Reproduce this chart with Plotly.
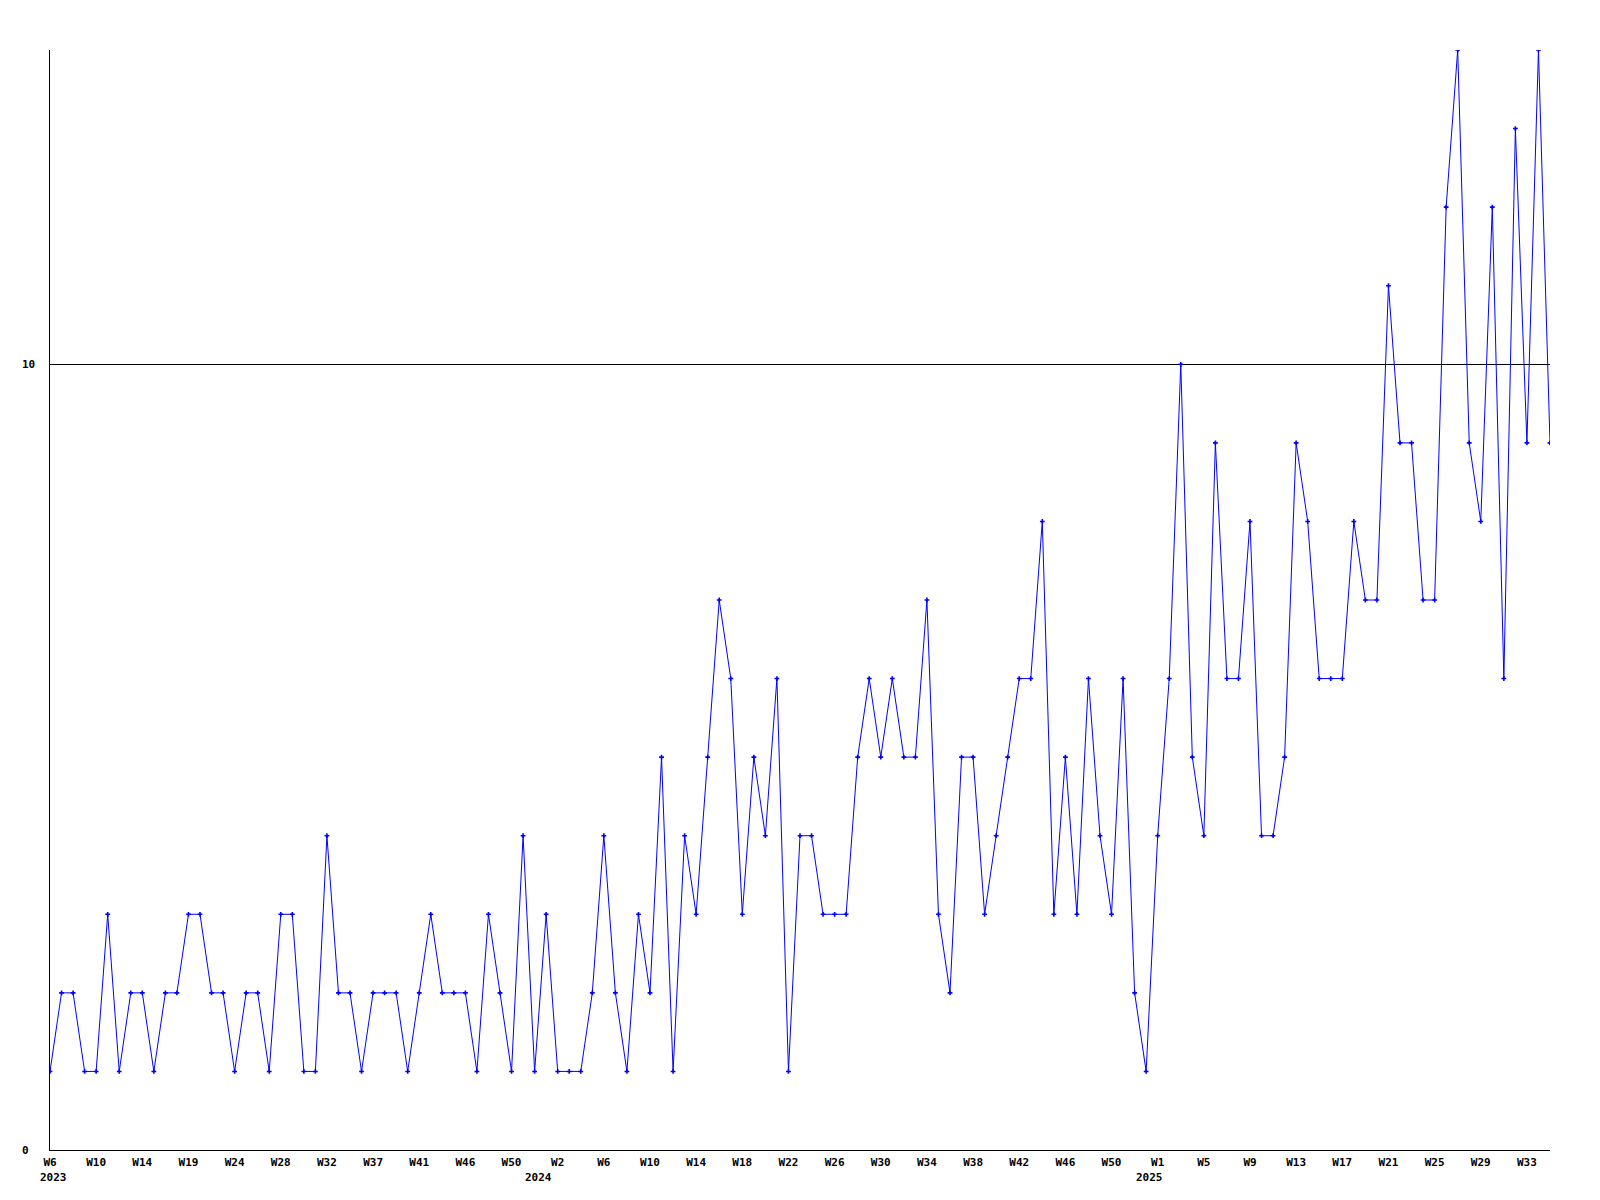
import plotly.graph_objects as go

# Weekly counts (one point per week bucket)
counts = [
    1, 2, 2, 1, 1, 3, 1, 2, 2, 1, 2, 2, 3, 3, 2, 2, 1, 2, 2, 1, 3, 3, 1, 1,
    4, 2, 2, 1, 2, 2, 2, 1, 2, 3, 2, 2, 2, 1, 3, 2, 1, 4, 1, 3, 1, 1, 1, 2,
    4, 2, 1, 3, 2, 5, 1, 4, 3, 5, 7, 6, 3, 5, 4, 6, 1, 4, 4, 3, 3, 3, 5, 6,
    5, 6, 5, 5, 7, 3, 2, 5, 5, 3, 4, 5, 6, 6, 8, 3, 5, 3, 6,
    4, 3, 6, 2, 1, 4, 6, 10, 5, 4, 9, 6, 6, 8, 4, 4, 5, 9, 8, 6, 6, 6, 8, 7,
    7, 11, 9, 9, 7, 7, 12, 14, 9, 8, 12, 6, 13, 9, 14, 9,
]

week_labels = [
    "W6", "W10", "W14", "W19", "W24", "W28", "W32", "W37", "W41", "W46", "W50",
    "W2", "W6", "W10", "W14", "W18", "W22", "W26", "W30", "W34", "W38", "W42", "W46", "W50",
    "W1", "W5", "W9", "W13", "W17", "W21", "W25", "W29", "W33",
]
year_labels = ["2023", "2024", "2025"]
year_label_ticks = [0, 11, 24]  # index into week_labels of first label of each year

y_labels = [0, 10]

x = list(range(len(counts)))
tick_step = 4
tickvals = [i * tick_step for i in range(len(week_labels))]

FONT = "DejaVu Sans Mono"
lab_font = dict(family=FONT, size=11, color="black", weight="bold")

fig = go.Figure()
fig.add_trace(go.Scatter(
    x=x, y=counts, mode="lines+markers",
    line=dict(color="#0000ff", width=1),
    marker=dict(symbol="cross", size=4, color="#0000ff"),
    showlegend=False, hoverinfo="x+y",
))

year_offsets = [0.3, -1.7, -0.7]
annotations = []
for lab, ti, off in zip(year_labels, year_label_ticks, year_offsets):
    annotations.append(dict(
        x=tickvals[ti] + off, y=0, xref="x", yref="paper",
        text=lab, showarrow=False, xanchor="center", yanchor="middle",
        yshift=-27, font=lab_font,
    ))
for v in y_labels:
    annotations.append(dict(
        x=-0.02, y=v, xref="paper", yref="y", text=str(v), showarrow=False,
        xanchor="left", yanchor="middle", font=lab_font,
    ))

# page body has an 8px margin, so the figure is shrunk and offset accordingly
fig.update_layout(
    width=1584, height=1184,
    margin=dict(l=42, r=42, t=42, b=42),
    plot_bgcolor="white", paper_bgcolor="white",
    annotations=annotations,
    xaxis=dict(
        range=[0, len(counts) - 1], tickvals=tickvals, ticktext=week_labels,
        showgrid=False, zeroline=False, showline=True, linecolor="black", linewidth=1,
        ticks="", tickfont=lab_font, tickangle=0, ticklabelstandoff=2,
    ),
    yaxis=dict(
        range=[0, 14], tickvals=[10], showticklabels=False,
        showgrid=True, gridcolor="black", gridwidth=1,
        zeroline=False, showline=True, linecolor="black", linewidth=1, ticks="",
    ),
)

fig.write_html("out.html")
